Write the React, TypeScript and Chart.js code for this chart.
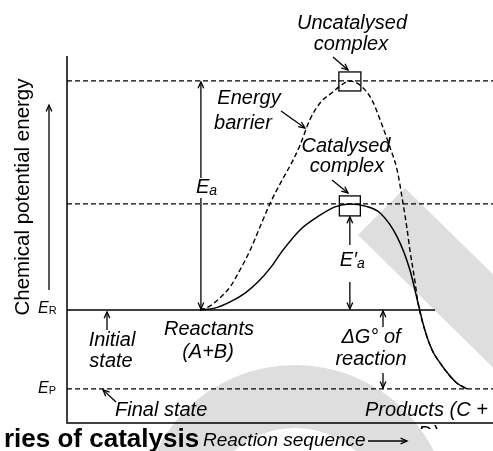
import React, { useEffect, useRef } from "react";
import { Chart, registerables } from "chart.js";

Chart.register(...registerables);

// Reaction coordinate (x, 0-100) and chemical potential energy (y, 0-100), arbitrary units
const catalysedX = [31.2, 34.7, 38.3, 41.8, 44.8, 47.7, 50.7, 54.7, 58.7, 62.9, 66.4, 70.0, 73.5, 77.5, 80.5, 82.4, 84.0, 85.7, 87.6, 89.9, 91.5, 93.9];
const catalysedY = [30.8, 31.3, 33.0, 35.4, 38.4, 42.2, 47.1, 52.6, 56.1, 58.9, 59.7, 59.1, 57.2, 50.7, 41.7, 32.7, 25.3, 19.9, 16.3, 12.8, 10.9, 9.3];

const uncatalysedX = [31.2, 33.6, 35.9, 38.3, 40.6, 43.0, 45.3, 47.7, 50.5, 53.1, 54.7, 57.0, 59.4, 62.4, 64.8, 66.4, 68.1, 70.0, 71.6, 73.5, 75.8, 77.5, 78.9, 79.8, 80.5, 81.7, 82.4, 84.0, 85.7, 87.6, 89.9, 91.5, 93.9];
const uncatalysedY = [30.8, 31.9, 34.1, 37.1, 41.7, 47.1, 53.4, 59.9, 66.2, 71.7, 75.7, 82.6, 87.2, 90.2, 92.4, 93.2, 92.6, 90.7, 88.0, 82.6, 75.2, 68.9, 59.7, 53.1, 47.1, 38.4, 32.7, 25.3, 19.9, 16.3, 12.8, 10.9, 9.3];

// Energy levels: reactants, products, catalysed complex, uncatalysed complex
const levelReactants = 30.8;
const levelProducts = 9.3;
const levelCatalysed = 59.7;
const levelUncatalysed = 93.2;
const reactantLineEnd = 86.4;
const xRange = [0, 100];
const yRange = [0, 100];

const FONT = "'Liberation Sans', Arial, sans-serif";
const LABEL = `italic 20px ${FONT}`;

function arrow(ctx: CanvasRenderingContext2D, x1: number, y1: number, x2: number, y2: number, head = 7) {
  ctx.beginPath();
  ctx.moveTo(x1, y1);
  ctx.lineTo(x2, y2);
  ctx.stroke();
  const a = Math.atan2(y2 - y1, x2 - x1);
  ctx.beginPath();
  ctx.moveTo(x2 - head * Math.cos(a - 0.42), y2 - head * Math.sin(a - 0.42));
  ctx.lineTo(x2, y2);
  ctx.lineTo(x2 - head * Math.cos(a + 0.42), y2 - head * Math.sin(a + 0.42));
  ctx.stroke();
}

function subText(ctx: CanvasRenderingContext2D, main: string, sub: string, x: number, y: number, mainFont: string, subFont: string, dy: number) {
  ctx.textAlign = "left";
  ctx.font = mainFont;
  ctx.fillText(main, x, y);
  const w = ctx.measureText(main).width;
  ctx.font = subFont;
  ctx.fillText(sub, x + w, y + dy);
}

const watermark = {
  id: "watermark",
  beforeDraw(chart: any) {
    const ctx = chart.ctx as CanvasRenderingContext2D;
    ctx.save();
    ctx.fillStyle = "#dedede";
    ctx.beginPath();
    ctx.moveTo(405, 188);
    ctx.lineTo(358, 235);
    ctx.lineTo(620, 492);
    ctx.lineTo(667, 445);
    ctx.closePath();
    ctx.fill();
    ctx.beginPath();
    ctx.arc(295, 520, 155, 0, Math.PI * 2);
    ctx.arc(295, 520, 92, 0, Math.PI * 2, true);
    ctx.fill("evenodd");
    ctx.restore();
  },
};

const annotations = {
  id: "annotations",
  afterDraw(chart: any) {
    const ctx = chart.ctx as CanvasRenderingContext2D;
    const xs = chart.scales.x;
    const ys = chart.scales.y;
    const area = chart.chartArea;
    const yR = ys.getPixelForValue(levelReactants);
    const yP = ys.getPixelForValue(levelProducts);
    const yC = ys.getPixelForValue(levelCatalysed);
    const yU = ys.getPixelForValue(levelUncatalysed);
    const iU = uncatalysedY.indexOf(Math.max(...uncatalysedY));
    const iC = catalysedY.indexOf(Math.max(...catalysedY));
    const xU = xs.getPixelForValue(uncatalysedX[iU]);
    const xC = xs.getPixelForValue(catalysedX[iC]);
    const xStart = xs.getPixelForValue(uncatalysedX[0]);

    ctx.save();
    ctx.strokeStyle = "#000";
    ctx.fillStyle = "#000";

    // axes
    ctx.lineWidth = 1.5;
    ctx.beginPath();
    ctx.moveTo(xs.getPixelForValue(xRange[0]), ys.getPixelForValue(yRange[1]));
    ctx.lineTo(xs.getPixelForValue(xRange[0]), ys.getPixelForValue(yRange[0]));
    ctx.lineTo(area.right, ys.getPixelForValue(yRange[0]));
    ctx.stroke();

    ctx.lineWidth = 1.3;
    // complex boxes
    ctx.strokeRect(xU - 11, yU - 9, 22, 19);
    ctx.strokeRect(xC - 10.5, yC - 8, 21, 20);

    // Ea arrow
    arrow(ctx, xStart + 1, 178, xStart + 1, yU + 1);
    arrow(ctx, xStart + 1, 198, xStart + 1, yR - 1);
    // E'a arrow
    arrow(ctx, xC, 245, xC, yC + 13);
    arrow(ctx, xC, 282, xC, yR - 1);
    // dG arrows
    arrow(ctx, 383, 327, 383, yR + 1);
    arrow(ctx, 383, 373, 383, yP - 1);
    // initial / final state
    arrow(ctx, 107, 330, 107, yR + 2);
    arrow(ctx, 116, 402, 103, yP + 1);
    // pointers
    arrow(ctx, 333, 57, 348, 70);
    arrow(ctx, 332, 180, 348, 193);
    arrow(ctx, 281, 111, 305, 128);
    // y-title arrow
    arrow(ctx, 49, 290, 49, 105);
    // reaction sequence arrow
    arrow(ctx, 368, 441, 407, 441);

    // y title
    ctx.save();
    ctx.translate(23, 197);
    ctx.rotate(-Math.PI / 2);
    ctx.font = `20.5px ${FONT}`;
    ctx.textAlign = "center";
    ctx.textBaseline = "middle";
    ctx.fillText("Chemical potential energy", 0, 0);
    ctx.restore();

    ctx.textBaseline = "alphabetic";
    const centered: [string, number, number][] = [
      ["Uncatalysed", 352, 29],
      ["complex", 351, 50],
      ["Energy", 249, 104],
      ["barrier", 243, 129],
      ["Catalysed", 346, 152],
      ["complex", 347, 172],
      ["Initial", 112, 346],
      ["state", 111, 367],
      ["Reactants", 209, 335],
      ["(A+B)", 208, 358],
      ["\u0394G\u00b0 of", 371, 343],
      ["reaction", 371, 365],
    ];
    ctx.font = LABEL;
    ctx.textAlign = "center";
    for (const [t, x, y] of centered) ctx.fillText(t, x, y);
    ctx.textAlign = "left";
    ctx.fillText("Final state", 115, 416);
    ctx.fillText("Products (C +", 365, 416);

    // clipped continuation line
    ctx.save();
    ctx.beginPath();
    ctx.rect(400, 424.5, 93, 4.5);
    ctx.clip();
    ctx.fillText("D)", 418, 440);
    ctx.restore();

    subText(ctx, "E", "a", xStart - 4, 193, LABEL, `italic 14px ${FONT}`, 2);
    subText(ctx, "E\u2032", "a", xC - 10, 266, LABEL, `italic 14px ${FONT}`, 2);
    subText(ctx, "E", "R", 38, 313, `italic 16px ${FONT}`, `11px ${FONT}`, 1);
    subText(ctx, "E", "P", 38, 393, `italic 16px ${FONT}`, `11px ${FONT}`, 1);

    ctx.textAlign = "left";
    ctx.font = `bold 26px ${FONT}`;
    ctx.fillText("ries of catalysis", 4, 447);
    ctx.font = `italic 19px ${FONT}`;
    ctx.fillText("Reaction sequence", 203, 446);
    ctx.restore();
  },
};

const toPoints = (xsArr: number[], ysArr: number[]) => xsArr.map((x, i) => ({ x, y: ysArr[i] }));

export default function App() {
  const ref = useRef<HTMLCanvasElement>(null);
  useEffect(() => {
    document.body.style.margin = "0";
    const line = { borderColor: "#000", pointRadius: 0, showLine: true, fill: false };
    const chart = new Chart(ref.current!, {
      type: "scatter",
      data: {
        datasets: [
          { ...line, label: "Uncatalysed", data: toPoints(uncatalysedX, uncatalysedY), borderWidth: 1.4, borderDash: [5, 3], cubicInterpolationMode: "monotone" },
          { ...line, label: "Catalysed", data: toPoints(catalysedX, catalysedY), borderWidth: 1.5, cubicInterpolationMode: "monotone" },
          { ...line, label: "E_R", data: [{ x: xRange[0], y: levelReactants }, { x: reactantLineEnd, y: levelReactants }], borderWidth: 1.5 },
          { ...line, label: "E_P", data: [{ x: xRange[0], y: levelProducts }, { x: xRange[1], y: levelProducts }], borderWidth: 1.2, borderDash: [5, 3] },
          { ...line, label: "Catalysed complex", data: [{ x: xRange[0], y: levelCatalysed }, { x: xRange[1], y: levelCatalysed }], borderWidth: 1.2, borderDash: [5, 3] },
          { ...line, label: "Uncatalysed complex", data: [{ x: xRange[0], y: levelUncatalysed }, { x: xRange[1], y: levelUncatalysed }], borderWidth: 1.2, borderDash: [5, 3] },
        ] as any,
      },
      options: {
        animation: false,
        responsive: false,
        layout: { padding: { left: 67, top: 56, right: 0, bottom: 28 } },
        plugins: { legend: { display: false }, tooltip: { enabled: false } },
        scales: {
          x: { type: "linear", display: false, min: xRange[0], max: xRange[1] },
          y: { type: "linear", display: false, min: yRange[0], max: yRange[1] },
        },
      },
      plugins: [watermark, annotations],
    });
    return () => chart.destroy();
  }, []);
  return <canvas ref={ref} width={493} height={451} style={{ display: "block" }} />;
}
